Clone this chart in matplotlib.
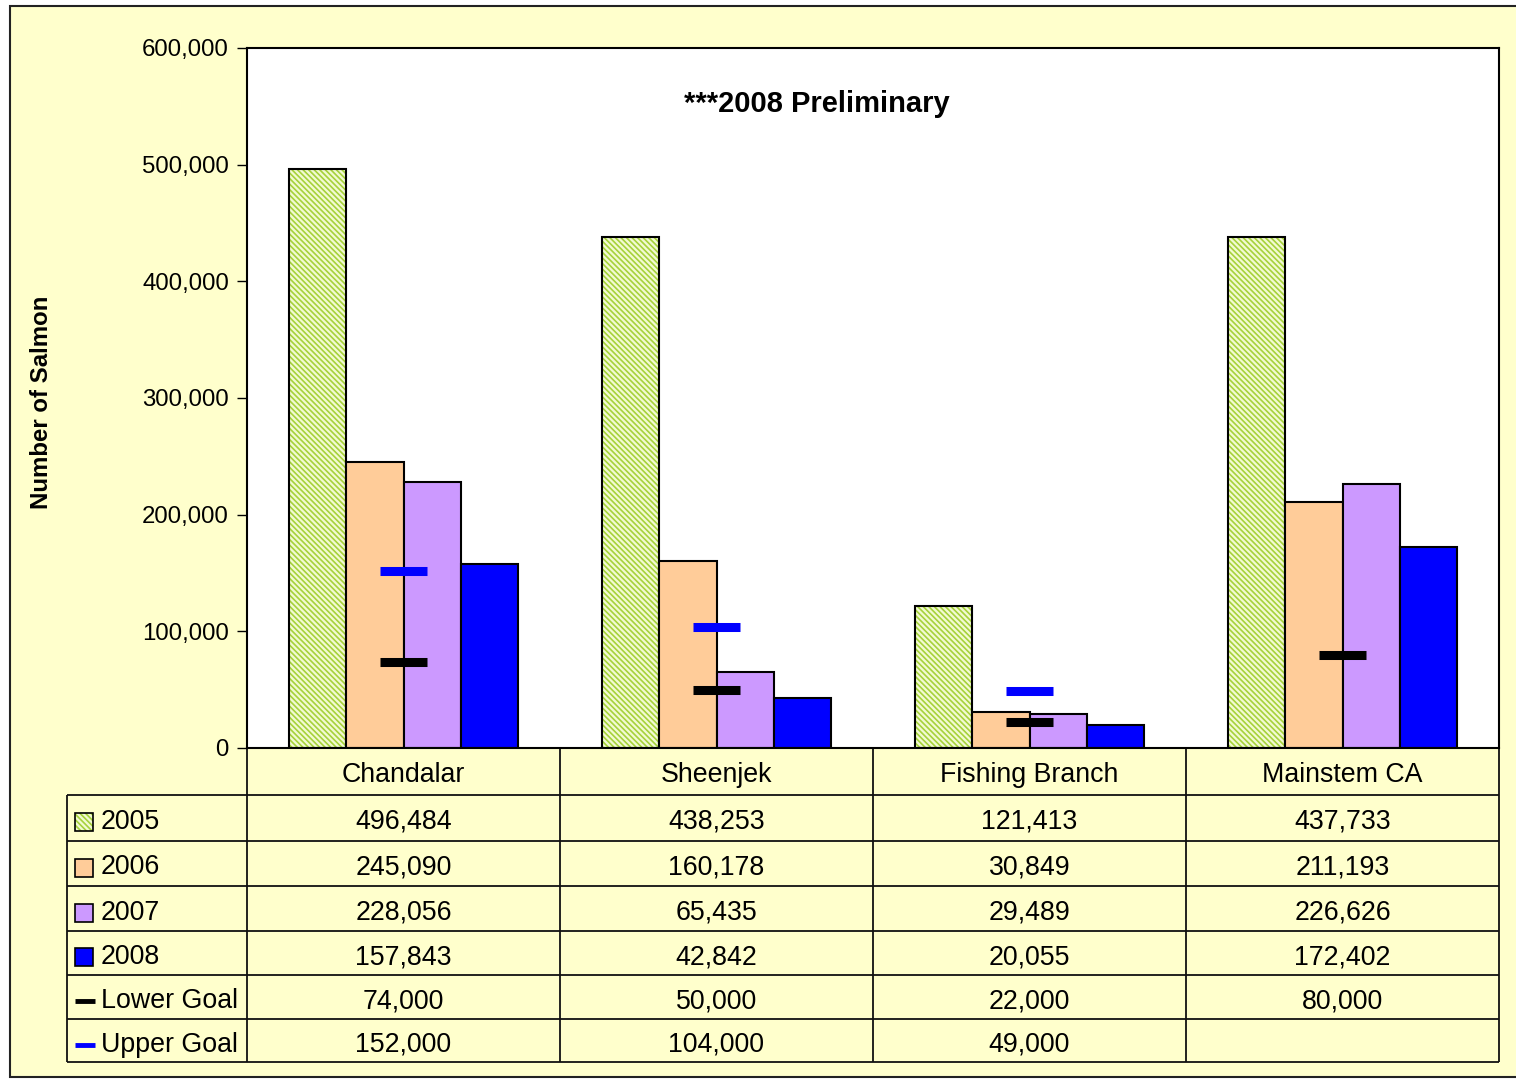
"""
Chum salmon escapement by river, 2005-2008, with goal markers and data table.
"""

import matplotlib

matplotlib.use('Agg')
import matplotlib.pyplot as plt
import numpy as np
from matplotlib.patches import Rectangle
from matplotlib.ticker import FuncFormatter

plt.rcParams['font.family'] = ['Liberation Sans', 'DejaVu Sans']
plt.rcParams['hatch.linewidth'] = 1.2

# data
rivers = ['Chandalar', 'Sheenjek', 'Fishing Branch', 'Mainstem CA']
years = ['2005', '2006', '2007', '2008']
counts_2005 = [496484, 438253, 121413, 437733]
counts_2006 = [245090, 160178, 30849, 211193]
counts_2007 = [228056, 65435, 29489, 226626]
counts_2008 = [157843, 42842, 20055, 172402]
lower_goal = [74000, 50000, 22000, 80000]
upper_goal = [152000, 104000, 49000, None]
y_ticks = [0, 100000, 200000, 300000, 400000, 500000, 600000]

series = [counts_2005, counts_2006, counts_2007, counts_2008]
face_colors = ['#f2fad2', '#ffcc99', '#cc99ff', '#0000ff']
hatch_2005 = '\\\\\\\\\\\\'
hatch_col = '#a6d23a'

W, H = 1516, 1080
fig = plt.figure(figsize=(W / 100, H / 100), dpi=100, facecolor='white')

# background canvas in pixel coordinates
bg = fig.add_axes((0, 0, 1, 1), zorder=0)
bg.set_xlim(0, W)
bg.set_ylim(H, 0)
bg.set_axis_off()
bg.add_patch(Rectangle((10, 6), W + 20, 1071, facecolor='#ffffcc',
                       edgecolor='#222222', linewidth=1.5))

# main plot area
x0, x1, y_top, y_bot = 247, 1499, 48, 748
ax = fig.add_axes((x0 / W, 1 - y_bot / H, (x1 - x0) / W, (y_bot - y_top) / H), zorder=2)
ax.set_facecolor('white')

x = np.arange(len(rivers))
bw = 0.183
for i, vals in enumerate(series):
    pos = x + (i - 1.5) * bw
    if i == 0:
        # hatch colour follows edgecolor, so hatch first, then outline on top
        ax.bar(pos, vals, width=bw, color=face_colors[i], edgecolor=hatch_col,
               linewidth=0, hatch=hatch_2005, zorder=2)
        ax.bar(pos, vals, width=bw, fill=False, edgecolor='black', linewidth=1.5, zorder=2)
    else:
        ax.bar(pos, vals, width=bw, color=face_colors[i], edgecolor='black',
               linewidth=1.5, zorder=2)

gw = 0.15
for i, v in enumerate(lower_goal):
    ax.hlines(v, x[i] - gw / 2, x[i] + gw / 2, color='black', linewidth=6.5, zorder=3)
for i, v in enumerate(upper_goal):
    if v is not None:
        ax.hlines(v, x[i] - gw / 2, x[i] + gw / 2, color='#0000ff', linewidth=6.5, zorder=3)

ax.set_xlim(-0.5, len(rivers) - 0.5)
ax.set_ylim(0, 600000)
ax.set_yticks(y_ticks)
ax.yaxis.set_major_formatter(FuncFormatter(lambda v, _: f'{int(v):,}'))
ax.tick_params(axis='y', labelsize=17.3, length=7, width=1, pad=6)
ax.set_xticks([])
for s in ax.spines.values():
    s.set_linewidth(1.5)

ax.text(0.455, 0.92, '***2008 Preliminary', transform=ax.transAxes, ha='center',
        va='center', fontsize=21, fontweight='bold')

fig.text(42 / W, 1 - 402 / H, 'Number of Salmon', rotation=90, ha='center', va='center',
         fontsize=17.3, fontweight='bold')

# data table beneath the chart
col_edges = [247, 560, 873, 1186, 1499]
row_edges = [748, 795, 841, 886, 931, 975, 1019, 1062]
left = 67
lc = '#111111'

bg.hlines(row_edges[0], col_edges[0], col_edges[-1], color=lc, linewidth=1.3)
for c in col_edges:
    bg.vlines(c, row_edges[0], row_edges[-1], color=lc, linewidth=1.3)
for r in row_edges[1:]:
    bg.hlines(r, left, col_edges[-1], color=lc, linewidth=1.3)
bg.vlines(left, row_edges[1], row_edges[-1], color=lc, linewidth=1.3)

for j, name in enumerate(rivers):
    cx = (col_edges[j] + col_edges[j + 1]) / 2
    bg.text(cx, (row_edges[0] + row_edges[1]) / 2 + 3, name, ha='center', va='center',
            fontsize=19.3)

table_rows = series + [lower_goal, upper_goal]
row_labels = years + ['Lower Goal', 'Upper Goal']
for i, (lab, vals) in enumerate(zip(row_labels, table_rows)):
    cy = (row_edges[i + 1] + row_edges[i + 2]) / 2 + 4
    if i == 0:
        bg.add_patch(Rectangle((75, cy - 9), 18, 18, facecolor=face_colors[i],
                               edgecolor=hatch_col, linewidth=0, hatch=hatch_2005))
        bg.add_patch(Rectangle((75, cy - 9), 18, 18, fill=False,
                               edgecolor='black', linewidth=1.2))
    elif i < 4:
        bg.add_patch(Rectangle((75, cy - 9), 18, 18, facecolor=face_colors[i],
                               edgecolor='black', linewidth=1.2))
    else:
        bg.hlines(cy, 75, 95, color='black' if i == 4 else '#0000ff', linewidth=3.5)
    bg.text(101, cy, lab, ha='left', va='center', fontsize=19.3)
    for j, v in enumerate(vals):
        if v is None:
            continue
        cx = (col_edges[j] + col_edges[j + 1]) / 2
        bg.text(cx, cy, f'{v:,}', ha='center', va='center', fontsize=19.3)

fig.savefig('out.png', dpi=100, facecolor='white')
